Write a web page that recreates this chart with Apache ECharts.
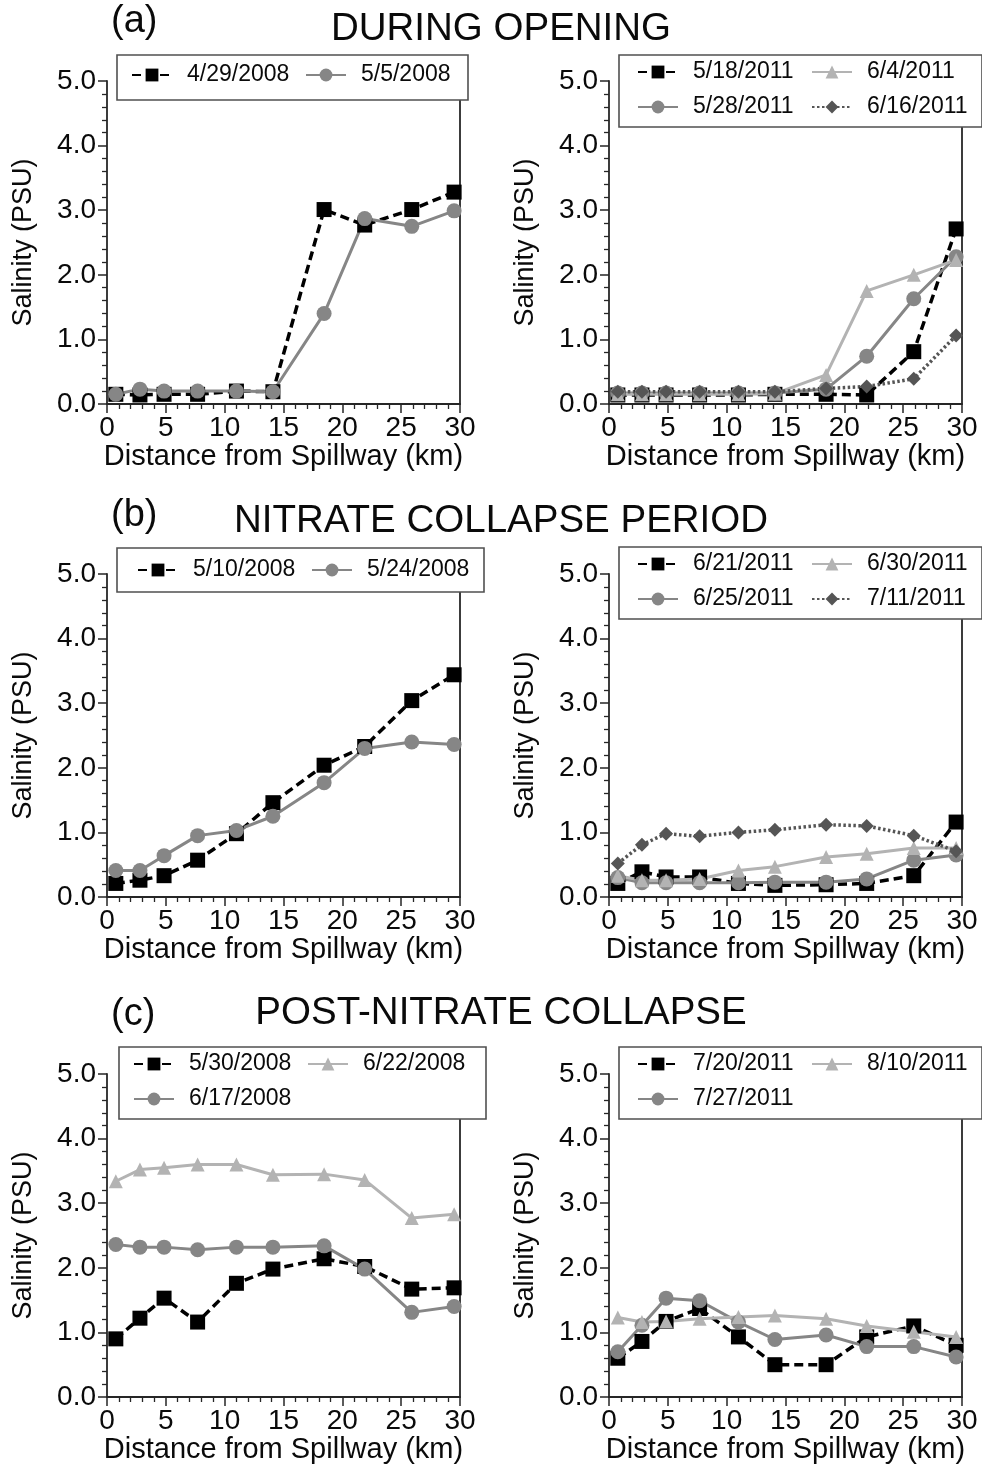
<!DOCTYPE html>
<html>
<head>
<meta charset="utf-8">
<script src="https://cdn.jsdelivr.net/npm/echarts@6/dist/echarts.min.js"></script>
<style>
html,body{margin:0;padding:0;background:#ffffff;}
#chart{width:982px;height:1469px;}
</style>
</head>
<body>
<div id="chart"></div>
<script>
// ---------------- DATA ----------------
// Station distances from the spillway (km)
const stationKm = [0.75, 2.8, 4.85, 7.7, 11.0, 14.1, 18.45, 21.9, 25.9, 29.5];
const xTickValues = [0, 5, 10, 15, 20, 25, 30];
const yTickLabels = ['0.0', '1.0', '2.0', '3.0', '4.0', '5.0'];

// (a) During opening
const sal_2008_04_29 = [0.15, 0.14, 0.15, 0.15, 0.20, 0.19, 3.01, 2.77, 3.01, 3.28];
const sal_2008_05_05 = [0.15, 0.23, 0.20, 0.20, 0.20, 0.19, 1.40, 2.87, 2.75, 2.99];
const sal_2011_05_18 = [0.14, 0.14, 0.14, 0.14, 0.14, 0.15, 0.15, 0.14, 0.81, 2.71];
const sal_2011_05_28 = [0.17, 0.17, 0.17, 0.17, 0.17, 0.17, 0.23, 0.74, 1.63, 2.28];
const sal_2011_06_04 = [0.15, 0.15, 0.15, 0.15, 0.15, 0.16, 0.45, 1.75, 2.00, 2.23];
const sal_2011_06_16 = [0.19, 0.19, 0.19, 0.19, 0.19, 0.19, 0.24, 0.27, 0.39, 1.06];

// (b) Nitrate collapse period
const sal_2008_05_10 = [0.21, 0.26, 0.33, 0.57, 0.98, 1.46, 2.04, 2.33, 3.04, 3.44];
const sal_2008_05_24 = [0.41, 0.41, 0.64, 0.95, 1.03, 1.25, 1.77, 2.30, 2.40, 2.36];
const sal_2011_06_21 = [0.21, 0.39, 0.31, 0.31, 0.21, 0.18, 0.19, 0.21, 0.33, 1.16];
const sal_2011_06_25 = [0.30, 0.22, 0.22, 0.22, 0.22, 0.23, 0.23, 0.28, 0.57, 0.65];
const sal_2011_06_30 = [0.33, 0.26, 0.26, 0.28, 0.41, 0.47, 0.62, 0.67, 0.76, 0.76];
const sal_2011_07_11 = [0.52, 0.81, 0.98, 0.94, 1.00, 1.04, 1.12, 1.10, 0.95, 0.71];

// (c) Post-nitrate collapse
const sal_2008_05_30 = [0.90, 1.22, 1.53, 1.16, 1.76, 1.98, 2.14, 2.02, 1.67, 1.69];
const sal_2008_06_17 = [2.36, 2.32, 2.32, 2.28, 2.32, 2.32, 2.34, 1.98, 1.31, 1.40];
const sal_2008_06_22 = [3.34, 3.52, 3.55, 3.60, 3.60, 3.44, 3.45, 3.36, 2.77, 2.83];
const sal_2011_07_20 = [0.60, 0.86, 1.17, 1.37, 0.93, 0.50, 0.50, 0.93, 1.10, 0.80];
const sal_2011_07_27 = [0.70, 1.11, 1.53, 1.49, 1.16, 0.89, 0.96, 0.78, 0.78, 0.62];
const sal_2011_08_10 = [1.23, 1.16, 1.17, 1.21, 1.24, 1.26, 1.21, 1.10, 1.01, 0.93];

const rowTitles = ['DURING OPENING', 'NITRATE COLLAPSE PERIOD', 'POST-NITRATE COLLAPSE'];
const rowTags = ['(a)', '(b)', '(c)'];

// Panels: series [name, values, style], legend order
const panels = [
  { series: [['4/29/2008', sal_2008_04_29, 'sq'], ['5/5/2008', sal_2008_05_05, 'ci']],
    legend: ['4/29/2008', '5/5/2008'] },
  { series: [['5/18/2011', sal_2011_05_18, 'sq'], ['5/28/2011', sal_2011_05_28, 'ci'],
             ['6/4/2011', sal_2011_06_04, 'tr'], ['6/16/2011', sal_2011_06_16, 'di']],
    legend: ['5/18/2011', '6/4/2011', '5/28/2011', '6/16/2011'] },
  { series: [['5/10/2008', sal_2008_05_10, 'sq'], ['5/24/2008', sal_2008_05_24, 'ci']],
    legend: ['5/10/2008', '5/24/2008'] },
  { series: [['6/21/2011', sal_2011_06_21, 'sq'], ['6/25/2011', sal_2011_06_25, 'ci'],
             ['6/30/2011', sal_2011_06_30, 'tr'], ['7/11/2011', sal_2011_07_11, 'di']],
    legend: ['6/21/2011', '6/30/2011', '6/25/2011', '7/11/2011'] },
  { series: [['5/30/2008', sal_2008_05_30, 'sq'], ['6/17/2008', sal_2008_06_17, 'ci'],
             ['6/22/2008', sal_2008_06_22, 'tr']],
    legend: ['5/30/2008', '6/22/2008', '6/17/2008'] },
  { series: [['7/20/2011', sal_2011_07_20, 'sq'], ['7/27/2011', sal_2011_07_27, 'ci'],
             ['8/10/2011', sal_2011_08_10, 'tr']],
    legend: ['7/20/2011', '8/10/2011', '7/27/2011'] }
];

// ---------------- STYLE / LAYOUT ----------------
const FONT = '"Liberation Sans", Arial, Helvetica, sans-serif';
const AXIS_COLOR = '#262626';
const TEXT_COLOR = '#0a0a0a';

const gridLefts = [107, 609];
const gridTops = [81, 574, 1074];
const GRID_W = 353, GRID_H = 323;

const styles = {
  sq: { color: '#000000', symbol: 'rect', size: 15, line: { type: [9, 5], width: 3.5 } },
  ci: { color: '#868686', symbol: 'circle', size: 15, line: { type: 'solid', width: 3 } },
  tr: { color: '#b3b3b3', symbol: 'triangle', size: 14, line: { type: 'solid', width: 3 } },
  di: { color: '#555555', symbol: 'diamond', size: 14, line: { type: [2.5, 2.5], width: 3.5 } }
};

// legend box layouts per panel: [left, top, padding]
const legendLayout = [
  [117, 55, [8, 0, 13, 14]],
  [619, 55, [5, 8, 8, 18]],
  [117, 548, [10, 10, 10, 20]],
  [619, 547, [5, 8, 8, 18]],
  [119, 1047, [5, 16, 8, 14]],
  [619, 1047, [5, 8, 8, 18]]
];
const tagTops = [22, 516, 1015];
const titleTops = [29, 521, 1013];

const grids = [], xAxes = [], yAxes = [], series = [], legends = [], titles = [];

panels.forEach((p, i) => {
  const row = Math.floor(i / 2), col = i % 2;
  grids.push({
    left: gridLefts[col], top: gridTops[row], width: GRID_W, height: GRID_H,
    outerBoundsMode: 'none', containLabel: false
  });
  xAxes.push({
    type: 'value', gridIndex: i, min: 0, max: 30, interval: 5,
    name: 'Distance from Spillway (km)', nameLocation: 'middle', nameGap: 35,
    nameTextStyle: { fontSize: 29, color: TEXT_COLOR, fontFamily: FONT },
    axisLine: { show: true, onZero: false, lineStyle: { color: AXIS_COLOR, width: 1.8 } },
    axisTick: { show: true, inside: false, length: 9, lineStyle: { color: AXIS_COLOR, width: 1.5 } },
    minorTick: { show: true, splitNumber: 5, length: 5, lineStyle: { color: AXIS_COLOR, width: 1.3 } },
    splitLine: { show: false }, minorSplitLine: { show: false },
    axisLabel: { fontSize: 28, color: TEXT_COLOR, fontFamily: FONT, margin: 10,
      formatter: v => (xTickValues.indexOf(v) >= 0 ? String(v) : '') }
  });
  yAxes.push({
    type: 'value', gridIndex: i, position: 'left', min: 0, max: 5, interval: 1,
    name: 'Salinity (PSU)', nameLocation: 'middle', nameGap: 70,
    nameTextStyle: { fontSize: 27, color: TEXT_COLOR, fontFamily: FONT },
    axisLine: { show: true, onZero: false, lineStyle: { color: AXIS_COLOR, width: 1.8 } },
    axisTick: { show: true, inside: false, length: 9, lineStyle: { color: AXIS_COLOR, width: 1.5 } },
    minorTick: { show: true, splitNumber: 5, length: 5, lineStyle: { color: AXIS_COLOR, width: 1.3 } },
    splitLine: { show: false }, minorSplitLine: { show: false },
    axisLabel: { fontSize: 28, color: TEXT_COLOR, fontFamily: FONT, margin: 11,
      formatter: v => yTickLabels[Math.round(v)] }
  });
  yAxes.push({
    type: 'value', gridIndex: i, position: 'right', min: 0, max: 5, interval: 1,
    axisLine: { show: true, onZero: false, lineStyle: { color: AXIS_COLOR, width: 1.8 } },
    axisTick: { show: false }, axisLabel: { show: false }, splitLine: { show: false }
  });

  p.series.forEach(([name, vals, st]) => {
    const s = styles[st];
    series.push({
      type: 'line', name: name, xAxisIndex: i, yAxisIndex: 2 * i,
      data: stationKm.map((x, j) => [x, vals[j]]),
      symbol: s.symbol, symbolSize: s.size, showSymbol: true,
      itemStyle: { color: s.color, borderWidth: 0 },
      lineStyle: { color: s.color, type: s.line.type, width: s.line.width },
      silent: true, emphasis: { disabled: true }, animation: false, z: 2
    });
  });

  const [lLeft, lTop, lPad] = legendLayout[i];
  legends.push({
    data: p.legend, left: lLeft, top: lTop, width: 345, orient: 'horizontal',
    padding: lPad, itemGap: 11, itemWidth: 40, itemHeight: 16,
    backgroundColor: '#ffffff', borderColor: '#505050', borderWidth: 1.6, borderRadius: 0,
    selectedMode: false, z: 6,
    textStyle: { fontSize: 23, color: TEXT_COLOR, fontFamily: FONT, lineHeight: 24,
      width: 107, padding: [0, 0, 0, 10] }
  });
});

rowTitles.forEach((t, r) => {
  titles.push({ text: rowTags[r], left: 111, top: tagTops[r], padding: 0,
    textAlign: 'left', textVerticalAlign: 'middle',
    textStyle: { fontSize: 38, fontWeight: 'normal', color: TEXT_COLOR, fontFamily: FONT } });
  titles.push({ text: t, left: 501, top: titleTops[r], padding: 0,
    textAlign: 'center', textVerticalAlign: 'middle',
    textStyle: { fontSize: 38.5, fontWeight: 'normal', color: TEXT_COLOR, fontFamily: FONT } });
});

const chart = echarts.init(document.getElementById('chart'), null, { renderer: 'canvas' });
chart.setOption({
  backgroundColor: '#ffffff',
  animation: false,
  textStyle: { fontFamily: FONT },
  title: titles,
  grid: grids,
  xAxis: xAxes,
  yAxis: yAxes,
  legend: legends,
  series: series
});
</script>
</body>
</html>
